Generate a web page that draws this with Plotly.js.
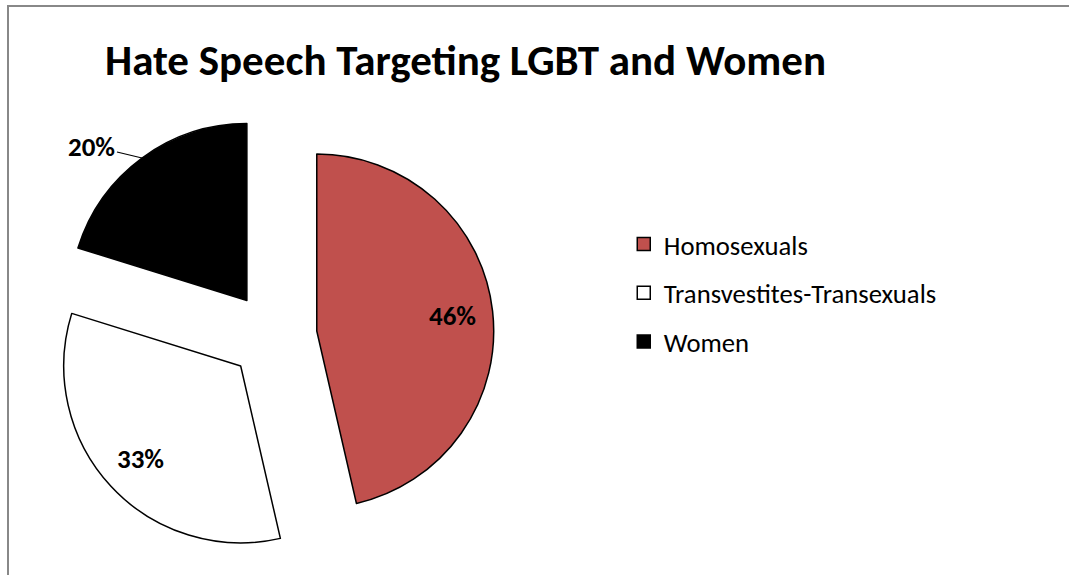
<!DOCTYPE html>
<html>
<head>
<meta charset="utf-8">
<script src="https://cdn.plot.ly/plotly-3.0.1.min.js"></script>
<style>
html,body{margin:0;padding:0;background:#fff;}
#wrap{position:relative;width:1069px;height:575px;}
#chart{width:1069px;height:575px;}
#frame{position:absolute;left:7px;top:5px;width:1062px;height:570px;border-left:2px solid #888;border-top:2px solid #888;pointer-events:none;}
</style>
</head>
<body>
<div id="wrap"><div id="chart"></div><div id="frame"></div></div>
<script>
const categories = ["Homosexuals", "Transvestites-Transexuals", "Women"];
const values = [46.4, 33.4, 20.2];
const colors = ["#C0504D", "#FFFFFF", "#000000"];
const labelInside = [true, true, false];
const chartTitle = "Hate Speech Targeting LGBT and Women";

const FONT = "Carlito, Calibri, 'Open Sans', sans-serif";
const W = 1069, H = 575;
const PULL = 0.249;
const DOMAIN = {x: [0.04864, 0.46211], y: [0.0313, 0.8]};

const pie = {
  type: "pie",
  labels: categories,
  values: values,
  sort: false,
  direction: "clockwise",
  rotation: 0,
  pull: PULL,
  marker: {colors: colors, line: {color: "#000000", width: 1.5}},
  textinfo: "none",
  domain: DOMAIN,
  showlegend: false,
  hoverinfo: "label+percent"
};

const legendTraces = categories.map((c, i) => ({
  type: "scatter",
  mode: "markers",
  x: [null], y: [null],
  name: c,
  legendgroup: "g" + i,
  marker: {symbol: "square", size: 13, color: colors[i], line: {color: "#000000", width: 1.5}},
  hoverinfo: "skip",
  showlegend: true
}));

const layout = {
  width: W, height: H,
  margin: {l: 0, r: 0, t: 0, b: 0},
  paper_bgcolor: "#ffffff",
  plot_bgcolor: "#ffffff",
  title: {
    text: "<b>" + chartTitle + "</b>",
    font: {family: FONT, size: 43, color: "#000000"},
    x: 105/W, xanchor: "left", xref: "paper",
    y: 1 - 60/H, yanchor: "middle", yref: "container"
  },
  xaxis: {visible: false, domain: [0.6, 0.61]},
  yaxis: {visible: false, domain: [0.6, 0.61]},
  legend: {
    x: 0.5835, xanchor: "left", y: 0.617, yanchor: "top",
    font: {family: FONT, size: 26.7, color: "#000000"},
    tracegroupgap: 11,
    bgcolor: "rgba(0,0,0,0)",
    itemclick: false, itemdoubleclick: false
  },
  showlegend: true
};

Plotly.newPlot("chart", [pie].concat(legendTraces), layout, {staticPlot: true, displayModeBar: false}).then(gd => {
  // pie geometry from the rendered trace
  let cx, cy, r;
  try {
    const cd0 = gd.calcdata[0][0];
    cx = cd0.cx; cy = cd0.cy; r = cd0.r;
  } catch (e) {}
  if (!(r > 0)) {
    cx = W * (DOMAIN.x[0] + DOMAIN.x[1]) / 2;
    cy = H * (1 - (DOMAIN.y[0] + DOMAIN.y[1]) / 2);
    r = Math.min(W * (DOMAIN.x[1] - DOMAIN.x[0]), H * (DOMAIN.y[1] - DOMAIN.y[0])) / (2 * (1 + PULL));
  }
  const total = values.reduce((a, b) => a + b, 0);
  let cum = 0;
  const annotations = values.map((v, i) => {
    const mid = 2 * Math.PI * (cum + v / 2) / total;
    cum += v;
    const pct = Math.round(100 * v / total) + "%";
    const dx = Math.sin(mid), dy = -Math.cos(mid);
    const vx = cx + dx * r * PULL, vy = cy + dy * r * PULL;
    if (labelInside[i]) {
      const px = vx + dx * r * 0.77, py = vy + dy * r * 0.77;
      return {xref: "paper", yref: "paper", x: px / W, y: 1 - py / H,
        xanchor: "center", yanchor: "middle",
        text: "<b>" + pct + "</b>", showarrow: false,
        font: {family: FONT, size: 27, color: "#000000"}};
    }
    const px = vx + dx * r, py = vy + dy * r;
    return {xref: "paper", yref: "paper", x: px / W, y: 1 - py / H,
      xanchor: "center", yanchor: "middle",
      text: "<b>" + pct + "</b>", showarrow: true, arrowhead: 0, arrowwidth: 1.2,
      arrowcolor: "#000000", ax: -50, ay: -12, standoff: 0,
      font: {family: FONT, size: 27, color: "#000000"}};
  });
  return Plotly.relayout(gd, {annotations: annotations});
});
</script>
</body>
</html>
